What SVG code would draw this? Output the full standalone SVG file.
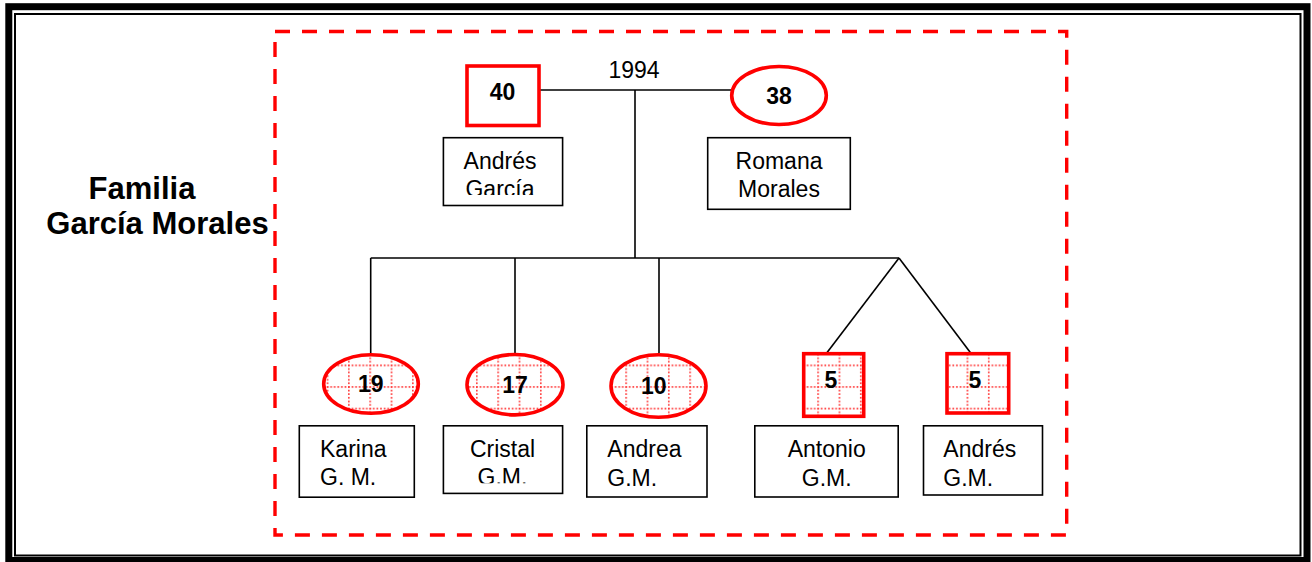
<svg xmlns="http://www.w3.org/2000/svg" width="1312" height="562" viewBox="0 0 1312 562">
<style>
.lbl{font-family:"Liberation Sans",Arial,sans-serif;font-size:23px;fill:#000}
.num{font-family:"Liberation Sans",Arial,sans-serif;font-size:23px;font-weight:bold;fill:#000}
.title{font-family:"Liberation Sans",Arial,sans-serif;font-size:31px;font-weight:bold;fill:#000}
.box{fill:#fff;stroke:#000;stroke-width:1.6}
.red{stroke:#ff0000;stroke-width:3.6}
.conn{stroke:#000;stroke-width:1.6;fill:none}
</style>
<defs>
<pattern id="grid" patternUnits="userSpaceOnUse" x="348" y="364.5" width="21.33" height="21.6">
<line x1="0.8" y1="0" x2="0.8" y2="21.6" stroke="#ff2a2a" stroke-opacity="0.9" stroke-width="1.7" stroke-dasharray="1.7 1.9"/>
<line x1="0" y1="0.8" x2="21.33" y2="0.8" stroke="#ff2a2a" stroke-opacity="0.9" stroke-width="1.7" stroke-dasharray="1.7 1.9"/>
</pattern>
<clipPath id="clipTop"><rect x="440" y="135" width="125" height="60"/></clipPath>
<clipPath id="clipCristal"><rect x="440" y="420" width="125" height="63.3"/></clipPath>
</defs>
<rect width="1312" height="562" fill="#fff"/>
<g id="frame">
<rect x="8.8" y="6.7" width="1298.2" height="553.8" fill="none" stroke="#000" stroke-width="7"/>
<rect x="15" y="14" width="1285.5" height="541.5" fill="none" stroke="#000" stroke-width="2"/>
<rect x="275" y="31.5" width="791.7" height="503.5" fill="none" stroke="#ff0000" stroke-width="3.4" stroke-dasharray="15 12"/>
</g>
<g id="title">
<text class="title" x="142" y="199" text-anchor="middle">Familia</text>
<text class="title" x="157.5" y="234" text-anchor="middle">García Morales</text>
</g>
<g id="connectors">
<line class="conn" x1="540" y1="90" x2="731" y2="90"/>
<line class="conn" x1="635" y1="90" x2="635" y2="258"/>
<line class="conn" x1="370.7" y1="258" x2="899" y2="258"/>
<line class="conn" x1="370.7" y1="258" x2="370.7" y2="353"/>
<line class="conn" x1="515" y1="258" x2="515" y2="353"/>
<line class="conn" x1="659" y1="258" x2="659" y2="353"/>
<line class="conn" x1="899" y1="258" x2="826.7" y2="353"/>
<line class="conn" x1="899" y1="258" x2="970.7" y2="353"/>
<text class="lbl" x="634" y="78.3" text-anchor="middle">1994</text>
</g>
<g id="father">
<rect class="red" x="467" y="66" width="72" height="59.5" fill="#fff"/>
<text class="num" x="502.5" y="100" text-anchor="middle">40</text>
<rect class="box" x="443.4" y="137.7" width="119.2" height="67.8"/>
<g clip-path="url(#clipTop)">
<text class="lbl" x="500" y="169" text-anchor="middle">Andrés</text>
<text class="lbl" x="500" y="196.7" text-anchor="middle">García</text>
</g>
</g>
<g id="mother">
<ellipse class="red" cx="779" cy="95.5" rx="47.3" ry="29" fill="#fff"/>
<text class="num" x="779" y="104" text-anchor="middle">38</text>
<rect class="box" x="707.7" y="137.7" width="142.6" height="71.6"/>
<text class="lbl" x="779" y="169" text-anchor="middle">Romana</text>
<text class="lbl" x="779" y="196.7" text-anchor="middle">Morales</text>
</g>
<g id="karina">
<ellipse class="red" cx="371" cy="384" rx="47.3" ry="29.3" fill="url(#grid)"/>
<text class="num" x="370.7" y="391.7" text-anchor="middle">19</text>
<rect class="box" x="299.3" y="425.8" width="115" height="71.4"/>
<text class="lbl" x="320" y="457">Karina</text>
<text class="lbl" x="320" y="485">G. M.</text>
</g>
<g id="cristal">
<ellipse class="red" cx="515" cy="384.7" rx="48" ry="30.2" fill="url(#grid)"/>
<text class="num" x="515" y="393" text-anchor="middle">17</text>
<rect class="box" x="443.4" y="425.8" width="119.2" height="67.6"/>
<g clip-path="url(#clipCristal)">
<text class="lbl" x="502.5" y="457" text-anchor="middle">Cristal</text>
<text class="lbl" x="502.5" y="485" text-anchor="middle">G.M.</text>
</g>
</g>
<g id="andrea">
<ellipse class="red" cx="658.5" cy="386" rx="47.5" ry="31.3" fill="url(#grid)"/>
<text class="num" x="653.8" y="394" text-anchor="middle">10</text>
<rect class="box" x="586.8" y="425.8" width="120.2" height="71.2"/>
<text class="lbl" x="607.3" y="457">Andrea</text>
<text class="lbl" x="607.3" y="485.5">G.M.</text>
</g>
<g id="antonio">
<rect class="red" x="803.7" y="353.7" width="60" height="62.6" stroke-width="4" fill="url(#grid)"/>
<text class="num" x="831" y="387.7" text-anchor="middle">5</text>
<rect class="box" x="754.8" y="425.8" width="143.4" height="71.2"/>
<text class="lbl" x="826.7" y="457" text-anchor="middle">Antonio</text>
<text class="lbl" x="826.7" y="485.5" text-anchor="middle">G.M.</text>
</g>
<g id="andres">
<rect class="red" x="947" y="353.7" width="61.7" height="59.3" stroke-width="4" fill="url(#grid)"/>
<text class="num" x="975" y="387.7" text-anchor="middle">5</text>
<rect class="box" x="923.5" y="425.8" width="119" height="69.2"/>
<text class="lbl" x="943.3" y="457">Andrés</text>
<text class="lbl" x="943.3" y="485.5">G.M.</text>
</g>
</svg>
